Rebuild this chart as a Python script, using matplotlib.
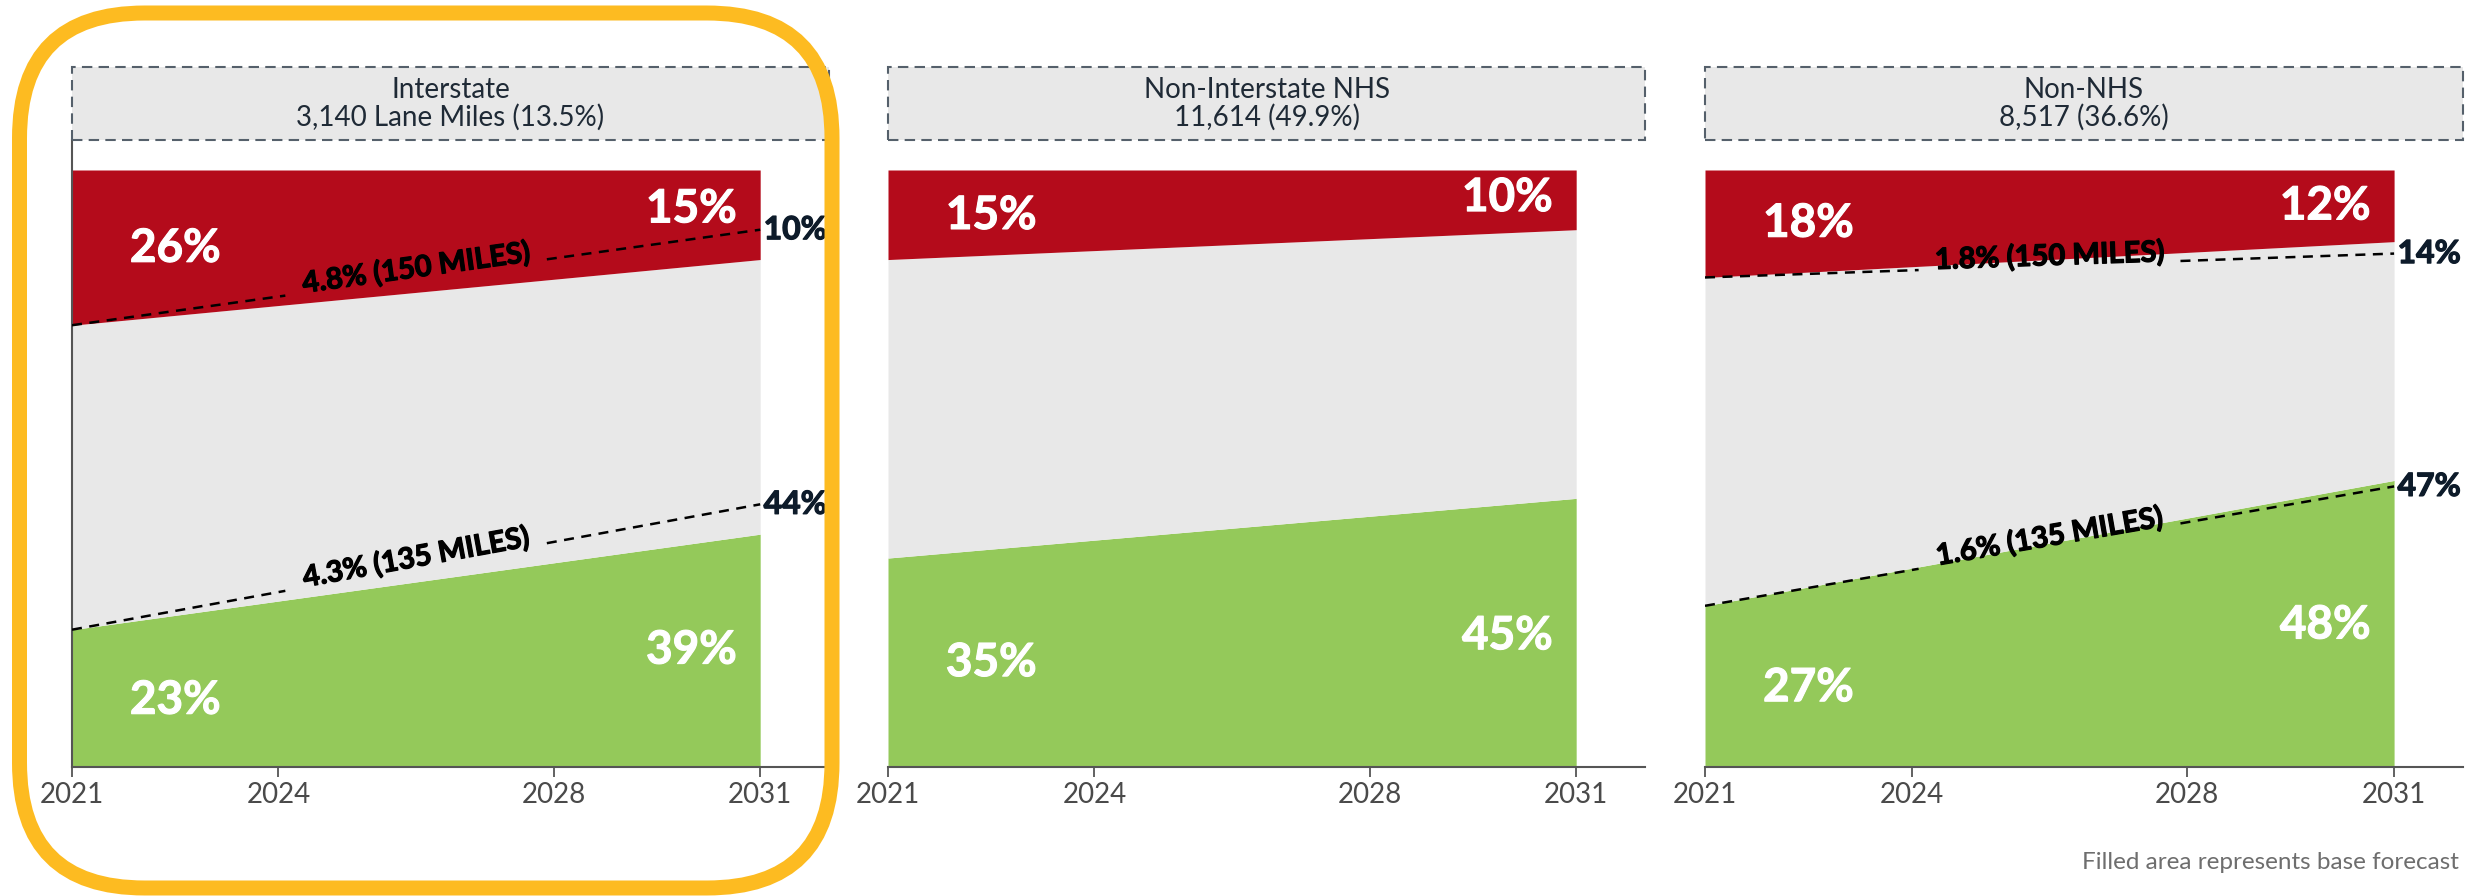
import numpy as np
import matplotlib
matplotlib.use("Agg")
import matplotlib.pyplot as plt
import matplotlib.patheffects as pe
from matplotlib.patches import Rectangle, FancyBboxPatch

plt.rcParams["font.family"] = ["Lato", "DejaVu Sans"]

# data
years = [2021, 2031]
tick_years = [2021, 2024, 2028, 2031]
titles = ["Interstate\n3,140 Lane Miles (13.5%)",
          "Non-Interstate NHS\n11,614 (49.9%)",
          "Non-NHS\n8,517 (36.6%)"]
poor = [[26, 15], [15, 10], [18, 12]]        # red, % of lane miles
good = [[23, 39], [35, 45], [27, 48]]        # green
poor_target = [[74, 90], None, [82, 86]]     # dashed line, cumulative % from bottom
good_target = [[23, 44], None, [27, 47]]
poor_target_lbl = ["4.8% (150 MILES)", None, "1.8% (150 MILES)"]
good_target_lbl = ["4.3% (135 MILES)", None, "1.6% (135 MILES)"]
poor_end_lbl = ["10%", None, "14%"]
good_end_lbl = ["44%", None, "47%"]

RED, GREEN, GREY = "#B40B1B", "#94C95A", "#E8E8E8"
NAVY = "#0D1B2A"

W, H = 2468, 896
fig = plt.figure(figsize=(W / 100, H / 100), dpi=100)

# panel boxes in pixels: (left, right)
panels = [(72, 829), (888, 1645), (1705, 2463)]
top_px, bot_px, head_top, full_px = 140, 767, 67, 170
# label positions (year, y%) for the white numbers
lbl_pos = [
    [(2022.5, 86.8), (2030.0, 93.4), (2022.5, 11.1), (2030.0, 19.5)],
    [(2022.5, 92.3), (2030.0, 95.3), (2022.5, 17.4), (2030.0, 21.9)],
    [(2022.5, 91.0), (2030.0, 93.9), (2022.5, 13.2), (2030.0, 23.7)],
]


def dashed(ax, y, label, end_label):
    xs = np.array(years, dtype=float)
    lo, hi = 2024.1, 2027.9
    for a, b in [(xs[0], lo), (hi, xs[1])]:
        ax.plot([a, b], np.interp([a, b], xs, y), color="black", lw=1.8,
                ls=(0, (4, 3)), zorder=4)
    mid = 2026.0
    ang = np.degrees(np.arctan2(y[1] - y[0], xs[1] - xs[0]))
    ax.text(mid, np.interp(mid, xs, y) + 1.5, label, rotation=ang,
            transform_rotates_text=True, rotation_mode="anchor",
            ha="center", va="center", fontsize=21, fontweight="bold",
            color="black", zorder=5,
            path_effects=[pe.withStroke(linewidth=0.9, foreground="black")])
    ax.text(xs[1] + 0.05, y[1], end_label, ha="left", va="center",
            fontsize=23, fontweight="bold", color=NAVY, zorder=5,
            clip_on=False,
            path_effects=[pe.withStroke(linewidth=0.9, foreground=NAVY)])


for i, (l, r) in enumerate(panels):
    ax = fig.add_axes([l / W, 1 - bot_px / H, (r - l) / W, (bot_px - top_px) / H])
    ax.set_xlim(2021, 2032)
    ax.set_ylim(0, 100 * (bot_px - top_px) / (bot_px - full_px))
    red_lo = [100 - v for v in poor[i]]
    ax.fill_between(years, 0, good[i], color=GREEN, lw=0)
    ax.fill_between(years, good[i], red_lo, color=GREY, lw=0)
    ax.fill_between(years, red_lo, 100, color=RED, lw=0)

    vals = [poor[i][0], poor[i][1], good[i][0], good[i][1]]
    for (x, y), v in zip(lbl_pos[i], vals):
        ax.text(x, y, f"{v}%", ha="center", va="center", color="white",
                fontsize=33, fontweight="bold",
                path_effects=[pe.withStroke(linewidth=0.8, foreground="white")])

    if poor_target[i] is not None:
        dashed(ax, poor_target[i], poor_target_lbl[i], poor_end_lbl[i])
        dashed(ax, good_target[i], good_target_lbl[i], good_end_lbl[i])

    for s in ["top", "right"]:
        ax.spines[s].set_visible(False)
    ax.spines["left"].set_visible(i == 0)
    ax.spines["left"].set_color("#555555")
    ax.spines["left"].set_linewidth(1.5)
    ax.spines["bottom"].set_color("#555555")
    ax.spines["bottom"].set_linewidth(1.5)
    ax.set_yticks([])
    ax.set_xticks(tick_years)
    ax.set_xticklabels([str(t) for t in tick_years])
    ax.tick_params(axis="x", length=7, width=1.3, color="#555555",
                   labelsize=20, labelcolor="#4A4A4A", pad=4)

    # header box
    hx = fig.add_axes([l / W, 1 - top_px / H, (r - l) / W, (top_px - head_top) / H])
    hx.set_xlim(0, 1); hx.set_ylim(0, 1); hx.axis("off")
    hx.add_patch(Rectangle((0, 0), 1, 1, facecolor=GREY, edgecolor="#55606B",
                           lw=1.5, ls=(0, (5, 3)), clip_on=False))
    hx.text(0.5, 0.5, titles[i], ha="center", va="center", fontsize=20,
            color="#1F2A36", linespacing=1.05)

# highlight frame around first panel, drawn in pixel units
ov = fig.add_axes([0, 0, 1, 1], zorder=10)
ov.set_xlim(0, W); ov.set_ylim(H, 0); ov.axis("off")
ov.add_patch(FancyBboxPatch((19.5, 13), 832 - 19.5, 888 - 13,
                            boxstyle="round,pad=0,rounding_size=125",
                            facecolor="none", edgecolor="#FDBB21", lw=10.8))

fig.text(2459 / W, 1 - 862 / H, "Filled area represents base forecast",
         ha="right", va="center", fontsize=17.5, color="#6E6E6E")

fig.savefig("out.png", dpi=100)
plt.close(fig)
